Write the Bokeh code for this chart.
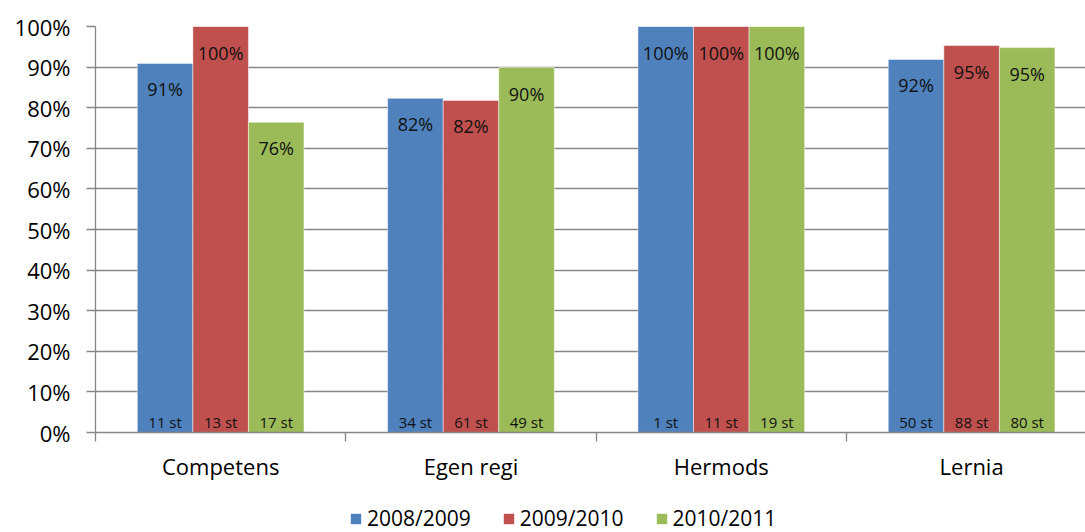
from bokeh.plotting import figure
from bokeh.layouts import column
from bokeh.models import ColumnDataSource, FixedTicker, Legend, LegendItem, NumeralTickFormatter
from bokeh.core.properties import value
from bokeh.embed import file_html
from bokeh.resources import INLINE

categories = ["Competens", "Egen regi", "Hermods", "Lernia"]
series = ["2008/2009", "2009/2010", "2010/2011"]
colors = ["#4F81BD", "#C0504D", "#9BBB59"]
pct_2008 = [90.9, 82.3, 100.0, 91.9]
pct_2009 = [100.0, 81.8, 100.0, 95.3]
pct_2010 = [76.4, 89.9, 100.0, 94.8]
n_2008 = [11, 34, 1, 50]
n_2009 = [13, 61, 11, 88]
n_2010 = [17, 49, 19, 80]
y_ticks = [0, 10, 20, 30, 40, 50, 60, 70, 80, 90, 100]

FONT = "Open Sans"
bar_w = 0.222
offsets = [-bar_w, 0.0, bar_w]
W = 1085
LEG_H = 30

p = figure(width=W, height=532 - LEG_H, output_backend="svg", toolbar_location=None,
           x_range=(0, 3.955), y_range=(0, 100),
           min_border_left=95, min_border_top=26, min_border_right=0,
           min_border_bottom=532 - LEG_H - 432)
p.outline_line_color = None

sources = []
for vals, counts, off in zip([pct_2008, pct_2009, pct_2010], [n_2008, n_2009, n_2010], offsets):
    xs = [i + 0.5 + off for i in range(len(categories))]
    sources.append(ColumnDataSource(dict(
        x=xs, top=vals,
        lab=[f"{round(v)}%" for v in vals],
        nlab=[f"{c} st" for c in counts],
        zero=[0] * len(vals),
    )))

for src, col in zip(sources, colors):
    p.vbar(x="x", top="top", width=bar_w, source=src, fill_color=col,
           line_color="white", line_width=0.8, line_alpha=0.6)
    p.text(x="x", y="top", text="lab", source=src, y_offset=26,
           text_align="center", text_baseline="middle",
           text_font=value(FONT), text_font_size="18px", text_color="#111111")
    p.text(x="x", y="zero", text="nlab", source=src, y_offset=-11,
           text_align="center", text_baseline="middle",
           text_font=value(FONT), text_font_size="15px", text_color="#111111")

# y axis
p.yaxis.ticker = FixedTicker(ticks=y_ticks)
p.yaxis.formatter = NumeralTickFormatter(format="0")
p.yaxis.major_label_overrides = {t: f"{t}%" for t in y_ticks}
p.yaxis.major_tick_out = 9
p.yaxis.major_tick_in = 0
p.yaxis.minor_tick_line_color = None
p.yaxis.axis_line_color = "#868686"
p.yaxis.axis_line_width = 1.3
p.yaxis.major_tick_line_color = "#868686"
p.yaxis.major_tick_line_width = 1.3
p.yaxis.major_label_standoff = 16
p.yaxis.major_label_text_font = FONT
p.yaxis.major_label_text_font_size = "22px"
p.yaxis.major_label_text_color = "black"

# x axis
p.xaxis.ticker = FixedTicker(ticks=[i + 0.5 for i in range(len(categories))],
                             minor_ticks=[i for i in range(len(categories) + 1)])
p.xaxis.major_label_overrides = {i + 0.5: c for i, c in enumerate(categories)}
p.xaxis.major_tick_line_color = None
p.xaxis.major_tick_out = 9
p.xaxis.major_tick_in = 0
p.xaxis.minor_tick_out = 9
p.xaxis.minor_tick_in = 0
p.xaxis.minor_tick_line_color = "#868686"
p.xaxis.minor_tick_line_width = 1.3
p.xaxis.axis_line_color = "#868686"
p.xaxis.axis_line_width = 1.3
p.xaxis.major_label_standoff = 9
p.xaxis.major_label_text_font = FONT
p.xaxis.major_label_text_font_size = "22px"
p.xaxis.major_label_text_color = "black"

p.xgrid.grid_line_color = None
p.ygrid.ticker = FixedTicker(ticks=y_ticks)
p.ygrid.grid_line_color = "#868686"
p.ygrid.grid_line_width = 1.3

# legend strip (same bar renderers, kept outside its visible y range)
lf = figure(width=W, height=LEG_H, output_backend="svg", toolbar_location=None,
            x_range=p.x_range, y_range=(1000, 1001),
            min_border_left=0, min_border_top=0, min_border_right=0, min_border_bottom=0)
lf.axis.visible = False
lf.grid.visible = False
lf.outline_line_color = None
leg_renderers = [lf.vbar(x="x", top="top", width=bar_w, source=src, fill_color=col, line_color=None)
                 for src, col in zip(sources, colors)]
legend = Legend(items=[LegendItem(label=s, renderers=[r]) for s, r in zip(series, leg_renderers)],
                orientation="horizontal", location=(254, 0),
                glyph_width=13, glyph_height=13, label_standoff=5, spacing=31,
                label_text_font=FONT, label_text_font_size="21px",
                label_text_color="black", border_line_color=None,
                background_fill_alpha=0, padding=0, margin=0)
lf.add_layout(legend)

layout = column(p, lf, spacing=0)
open("out.html", "w").write(file_html(layout, INLINE))
